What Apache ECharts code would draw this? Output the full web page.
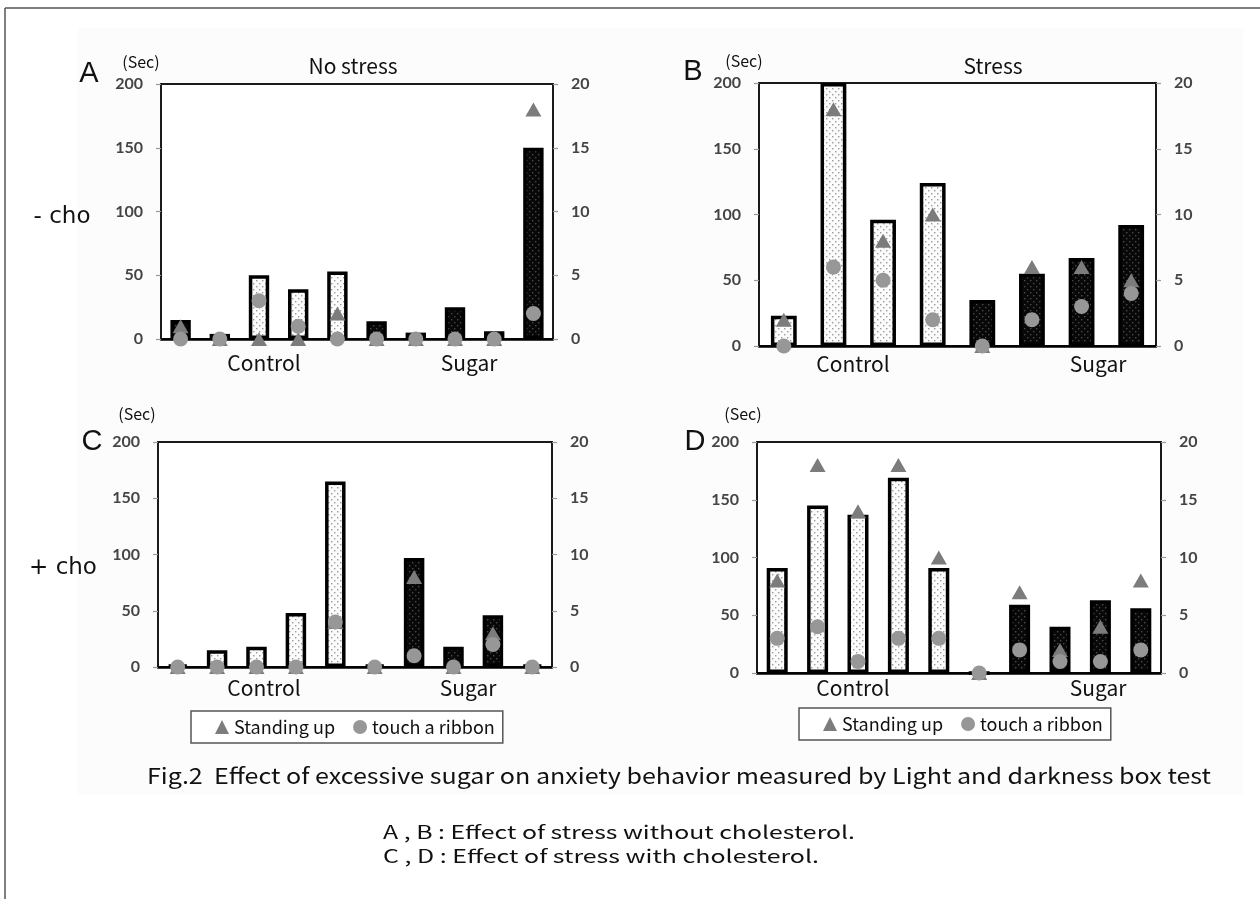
<!DOCTYPE html>
<html>
<head>
<meta charset="utf-8">
<script src="https://cdn.jsdelivr.net/npm/echarts@6/dist/echarts.min.js"></script>
<style>
  html, body { margin: 0; padding: 0; background: #ffffff; }
  #chart { width: 1260px; height: 899px; }
</style>
</head>
<body>
<div id="chart"></div>
<script>
// Axis ticks: time in the light box (left) and behaviour counts (right)
const secTicks = [0, 50, 100, 150, 200];
const countTicks = [0, 5, 10, 15, 20];

// A: no stress, no cholesterol ('C' = control diet, 'S' = sugar diet)
const miceA = ['1', '2', '3', '4', '5', '6', '7', '8', '9', '10'];
const groupA = ['S', 'S', 'C', 'C', 'C', 'S', 'S', 'S', 'S', 'S'];
const timeA = [15, 4, 50, 39, 53, 14, 5, 25, 6, 150];
const standA = [1, 0, 0, 0, 2, 0, 0, 0, 0, 18];
const ribbonA = [0, 0, 3, 1, 0, 0, 0, 0, 0, 2];

// B: stress, no cholesterol
const miceB = ['1', '2', '3', '4', '5', '6', '7', '8'];
const groupB = ['C', 'C', 'C', 'C', 'S', 'S', 'S', 'S'];
const timeB = [23, 200, 96, 124, 35, 55, 67, 92];
const standB = [2, 18, 8, 10, 0, 6, 6, 5];
const ribbonB = [0, 6, 5, 2, 0, 2, 3, 4];

// C: no stress, with cholesterol
const miceC = ['1', '2', '3', '4', '5', '6', '7', '8', '9', '10'];
const groupC = ['S', 'C', 'C', 'C', 'C', 'S', 'S', 'S', 'S', 'S'];
const timeC = [2, 15, 18, 48, 165, 2, 97, 18, 46, 2];
const standC = [0, 0, 0, 0, 4, 0, 8, 0, 3, 0];
const ribbonC = [0, 0, 0, 0, 4, 0, 1, 0, 2, 0];

// D: stress, with cholesterol
const miceD = ['1', '2', '3', '4', '5', '6', '7', '8', '9', '10'];
const groupD = ['C', 'C', 'C', 'C', 'C', 'S', 'S', 'S', 'S', 'S'];
const timeD = [91, 145, 137, 169, 91, 0, 59, 40, 63, 56];
const standD = [8, 18, 14, 18, 10, 0, 7, 2, 4, 8];
const ribbonD = [3, 4, 1, 3, 3, 0, 2, 1, 1, 2];

const panels = [
  { mice: miceA, group: groupA, time: timeA, stand: standA, ribbon: ribbonA },
  { mice: miceB, group: groupB, time: timeB, stand: standB, ribbon: ribbonB },
  { mice: miceC, group: groupC, time: timeC, stand: standC, ribbon: ribbonC },
  { mice: miceD, group: groupD, time: timeD, stand: standD, ribbon: ribbonD }
];

// Plot rectangles of the four panels
const grids = [
  { left: 161, top: 84, width: 392, height: 255 },
  { left: 759, top: 83, width: 397, height: 263 },
  { left: 158, top: 442, width: 394, height: 225 },
  { left: 757, top: 442, width: 404, height: 231 }
];

// Stippled fills: light for control, dark for sugar
function dotFill(bg, dot) {
  const c = document.createElement('canvas');
  c.width = 6; c.height = 6;
  const g = c.getContext('2d');
  g.fillStyle = bg; g.fillRect(0, 0, 6, 6);
  g.fillStyle = dot;
  g.fillRect(1, 1, 1.4, 1.4);
  g.fillRect(4, 4, 1.4, 1.4);
  return { image: c, repeat: 'repeat' };
}
const fills = { C: dotFill('#fcfcfc', '#9a9a9a'), S: dotFill('#080808', '#4a4a4a') };

const uiFont = '"Noto Sans CJK JP", "Noto Sans", sans-serif';
const numFont = 'Lato, "Open Sans", sans-serif';

function axisRange(ticks) {
  return { min: ticks[0], max: ticks[ticks.length - 1], interval: ticks[1] - ticks[0] };
}

const xAxes = [], yAxes = [], series = [];
panels.forEach((p, i) => {
  xAxes.push({
    type: 'category', gridIndex: i, data: p.mice, boundaryGap: true,
    axisLine: { lineStyle: { color: '#000', width: 2.5 } },
    axisTick: { show: false }, axisLabel: { show: false }, splitLine: { show: false }
  });
  const sideAxis = (pos, ticks) => Object.assign({
    type: 'value', gridIndex: i, position: pos,
    axisLine: { show: false },
    axisTick: { show: true, length: 5, lineStyle: { color: '#9a9a9a', width: 1.2 } },
    splitLine: { show: false },
    axisLabel: { margin: 18, color: '#444', fontFamily: numFont, fontWeight: 'bold', fontSize: 16 }
  }, axisRange(ticks));
  yAxes.push(sideAxis('left', secTicks));
  yAxes.push(sideAxis('right', countTicks));

  series.push({
    type: 'bar', name: 'Time', xAxisIndex: i, yAxisIndex: 2 * i, barWidth: '52%',
    silent: true,
    data: p.time.map((v, k) => ({
      value: v,
      itemStyle: { color: fills[p.group[k]], borderColor: '#000', borderWidth: 3.5 }
    }))
  });
  series.push({
    type: 'scatter', name: 'Standing up', xAxisIndex: i, yAxisIndex: 2 * i + 1,
    symbol: 'triangle', symbolSize: [16, 14], clip: false, silent: true,
    itemStyle: { color: '#7c7c7c', opacity: 1 }, data: p.stand, z: 3
  });
  series.push({
    type: 'scatter', name: 'touch a ribbon', xAxisIndex: i, yAxisIndex: 2 * i + 1,
    symbol: 'circle', symbolSize: 15, clip: false, silent: true,
    itemStyle: { color: '#979797', opacity: 1 }, data: p.ribbon, z: 4
  });
});

const legendBase = {
  orient: 'horizontal', selectedMode: false,
  itemWidth: 14, itemHeight: 14, itemGap: 18,
  padding: [7, 8, 7, 24],
  borderColor: '#555', borderWidth: 1.5, backgroundColor: '#fff',
  textStyle: { fontFamily: uiFont, fontSize: 18, color: '#111' },
  data: [{ name: 'Standing up', icon: 'triangle' }, { name: 'touch a ribbon', icon: 'circle' }]
};

// Horizontal stretch so a caption line spans the given width
const measureCtx = document.createElement('canvas').getContext('2d');
function textAt(x, y, text, size, family, opts) {
  opts = opts || {};
  const font = (opts.weight || 'normal') + ' ' + size + 'px ' + family;
  let sx = 1;
  if (opts.width) {
    measureCtx.font = font;
    sx = opts.width / measureCtx.measureText(text).width;
  }
  return {
    type: 'text', x: x, y: y, scaleX: sx, z: 10,
    style: {
      text: text, font: font, fill: opts.color || '#111',
      textAlign: opts.align || 'center', textVerticalAlign: 'middle'
    }
  };
}

const letterFont = '"Liberation Sans", sans-serif';
const graphics = [
  { type: 'rect', z: -5, shape: { x: 78, y: 28, width: 1165, height: 767 }, style: { fill: '#fcfcfc' } },
  { type: 'line', z: 10, shape: { x1: 5, y1: 8, x2: 1260, y2: 8 }, style: { stroke: '#555', lineWidth: 1.5 } },
  { type: 'line', z: 10, shape: { x1: 5, y1: 8, x2: 5, y2: 899 }, style: { stroke: '#555', lineWidth: 1.5 } },

  textAt(89, 74, 'A', 29, letterFont),
  textAt(693, 72, 'B', 29, letterFont),
  textAt(92, 442, 'C', 29, letterFont),
  textAt(695, 442, 'D', 29, letterFont),

  textAt(141, 62, '(Sec)', 16, uiFont),
  textAt(744, 61, '(Sec)', 16, uiFont),
  textAt(137, 414, '(Sec)', 16, uiFont),
  textAt(743, 414, '(Sec)', 16, uiFont),

  textAt(353, 66, 'No stress', 21, uiFont),
  textAt(993, 66, 'Stress', 21, uiFont),

  textAt(62, 217, '- cho', 23, '"DejaVu Sans", sans-serif'),
  textAt(63, 568, '+ cho', 23, '"DejaVu Sans", sans-serif'),

  textAt(264, 363, 'Control', 21, uiFont),
  textAt(469, 363, 'Sugar', 21, uiFont),
  textAt(853, 364, 'Control', 21, uiFont),
  textAt(1098, 364, 'Sugar', 21, uiFont),
  textAt(264, 688, 'Control', 21, uiFont),
  textAt(468, 688, 'Sugar', 21, uiFont),
  textAt(853, 688, 'Control', 21, uiFont),
  textAt(1098, 688, 'Sugar', 21, uiFont),

  textAt(147, 776, 'Fig.2  Effect of excessive sugar on anxiety behavior measured by Light and darkness box test',
    22, uiFont, { align: 'left', width: 1064 }),
  textAt(383, 832, 'A , B : Effect of stress without cholesterol.', 18, uiFont, { align: 'left', width: 472 }),
  textAt(383, 856, 'C , D : Effect of stress with cholesterol.', 18, uiFont, { align: 'left', width: 436 })
];

const chart = echarts.init(document.getElementById('chart'), null, { renderer: 'canvas' });
chart.setOption({
  animation: false,
  backgroundColor: '#ffffff',
  grid: grids.map(g => Object.assign({
    show: true, backgroundColor: '#ffffff', borderColor: '#1a1a1a', borderWidth: 2
  }, g)),
  xAxis: xAxes,
  yAxis: yAxes,
  legend: [
    Object.assign({ left: 191, top: 711 }, legendBase),
    Object.assign({ left: 799, top: 708 }, legendBase)
  ],
  series: series,
  graphic: graphics
});
</script>
</body>
</html>
